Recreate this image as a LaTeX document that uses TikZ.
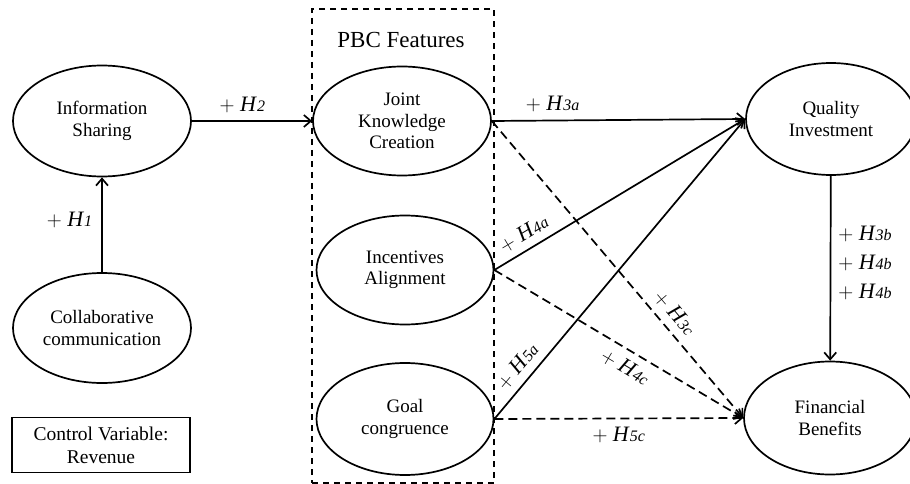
\documentclass[tikz,border=0pt]{standalone}
\usepackage{fontspec}
\setmainfont{Liberation Serif}
\usetikzlibrary{shapes.geometric,arrows.meta}
\tikzset{
  ell/.style={ellipse, draw, line width=1.7pt, inner sep=0pt, align=center,
    font=\fontsize{19}{21.5}\selectfont},
  conn/.style={line width=1.7pt, -{Straight Barb[length=7pt,width=12pt,line width=1.7pt]}},
  dconn/.style={conn, dash pattern=on 9pt off 5pt},
  hyp/.style={font=\fontsize{22}{29}\selectfont, inner sep=1pt},
}
\newcommand{\hy}[1]{$+$ \textit{H}{\fontsize{16}{16}\selectfont\textit{#1}}}
\begin{document}
\begin{tikzpicture}[x=1pt,y=-1pt]
\useasboundingbox (0,0) rectangle (910,484);
% PBC box
\node[draw, line width=1.4pt, dash pattern=on 6pt off 5pt, minimum width=182pt, minimum height=474pt, inner sep=0pt] (pbc) at (403,246) {};
\node[font=\fontsize{23}{23}\selectfont] (pbct) at (401,40) {PBC Features};
% ellipses
\node[ell, minimum width=178pt, minimum height=111pt] (IS) at (102,121) {Information\\Sharing};
\node[ell, minimum width=178pt, minimum height=110pt] (CC) at (102,328) {Collaborative\\communication};
\node[draw, line width=1.4pt, minimum width=178pt, minimum height=55pt, inner sep=0pt, align=center, font=\fontsize{19.5}{23}\selectfont] (CV) at (101,445) {Control Variable:\\Revenue};
\node[ell, minimum width=178pt, minimum height=109pt] (JKC) at (402,121) {Joint\\Knowledge\\Creation};
\node[ell, minimum width=177pt, minimum height=109pt] (IA) at (405,270) {Incentives\\Alignment};
\node[ell, minimum width=177pt, minimum height=112pt] (GC) at (405,419) {Goal\\congruence};
\node[ell, minimum width=170pt, minimum height=112pt] (QI) at (831,119) {Quality\\Investment};
\node[ell, minimum width=172pt, minimum height=113pt] (FB) at (830,418) {Financial\\Benefits};
% connectors
\draw[conn] (CC) -- node[hyp, left=8pt, pos=0.55] {\hy{1}} (IS);
\draw[conn] (IS) -- node[hyp, above=6pt, pos=0.42] {\hy{2}} (JKC);
\draw[conn] (JKC.east) -- node[hyp, above=7pt, pos=0.24] {\hy{3a}} (QI.west);
\draw[conn] (IA.east) -- node[hyp, sloped, above=6pt, pos=0.15] {\hy{4a}} (QI.west);
\draw[conn] (GC.east) -- node[hyp, sloped, above=6pt, pos=0.14] {\hy{5a}} (QI.west);
\draw[dconn] (JKC.east) -- node[hyp, sloped, above=6pt, pos=0.68] {\hy{3c}} (FB.west);
\draw[dconn] (IA.east) -- node[hyp, sloped, below=7pt, pos=0.56] {\hy{4c}} (FB.west);
\draw[dconn] (GC.east) -- node[hyp, below=7pt, pos=0.5] {\hy{5c}} (FB.west);
\draw[conn] (QI) -- node[hyp, right=6pt, pos=0.47, align=left] {\hy{3b}\\\hy{4b}\\\hy{4b}} (FB);
\end{tikzpicture}
\end{document}
